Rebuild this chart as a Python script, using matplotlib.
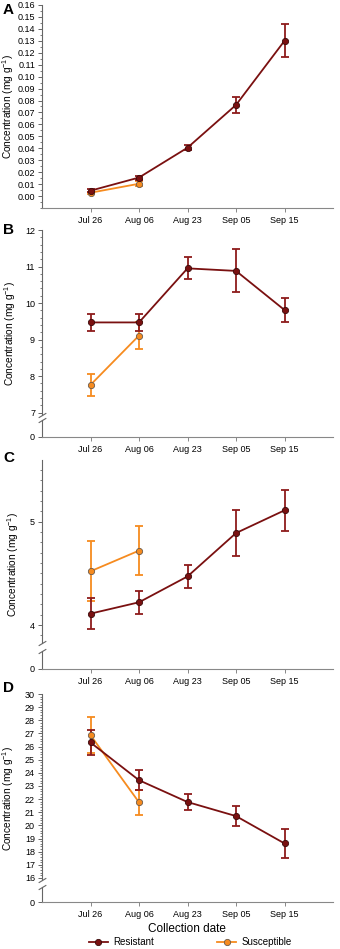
import matplotlib
matplotlib.use("Agg")
import matplotlib.pyplot as plt
from matplotlib.ticker import MultipleLocator, FormatStrFormatter
from matplotlib.lines import Line2D

plt.rcParams["font.family"] = ["Liberation Sans", "DejaVu Sans"]
plt.rcParams["mathtext.default"] = "regular"

dates = ["Jul 26", "Aug 06", "Aug 23", "Sep 05", "Sep 15"]

# panel A
a_res = [0.0045, 0.0155, 0.0405, 0.0763, 0.1300]
a_res_err = [0.0010, 0.0017, 0.0020, 0.0066, 0.0137]
a_sus = [0.0028, 0.0103]
a_sus_err = [0.0010, 0.0020]

# panel B
b_res = [9.47, 9.47, 10.95, 10.88, 9.81]
b_res_err = [0.24, 0.23, 0.30, 0.59, 0.33]
b_sus = [7.76, 9.11]
b_sus_err = [0.30, 0.36]

# panel C
c_res = [4.11, 4.22, 4.47, 4.89, 5.11]
c_res_err = [0.15, 0.11, 0.11, 0.22, 0.20]
c_sus = [4.52, 4.72]
c_sus_err = [0.29, 0.235]

# panel D
d_res = [26.31, 23.44, 21.78, 20.71, 18.63]
d_res_err = [0.97, 0.74, 0.64, 0.78, 1.08]
d_sus = [26.87, 21.76]
d_sus_err = [1.36, 0.93]

RES_LINE = "#7a1010"
RES_ERR = "#8e1b1b"
SUS_LINE = "#f68b1f"
SPINE = "#666666"

W, H = 340.0, 949.0
fig = plt.figure(figsize=(W / 100, H / 100), dpi=100)


def box(left, top, right, bottom):
    return fig.add_axes([left / W, 1 - bottom / H, (right - left) / W, (bottom - top) / H])


def style(ax, show_x):
    for s in ["top", "right"]:
        ax.spines[s].set_visible(False)
    ax.spines["left"].set_color(SPINE)
    ax.spines["bottom"].set_color("#888888")
    ax.spines["left"].set_linewidth(0.8)
    ax.spines["bottom"].set_linewidth(0.8)
    ax.tick_params(axis="y", which="major", length=3, width=0.7, color=SPINE,
                   labelsize=6.5, pad=2)
    ax.tick_params(axis="y", which="minor", length=1.8, width=0.6, color=SPINE)
    ax.tick_params(axis="x", length=3, width=0.7, color="#888888", labelsize=6.5, pad=3)
    ax.set_xlim(0, 6)
    ax.set_xticks(range(1, 6))
    if show_x:
        ax.set_xticklabels(dates)
    else:
        ax.spines["bottom"].set_visible(False)
        ax.tick_params(axis="x", bottom=False, labelbottom=False)


def draw(ax, res, res_err, sus, sus_err):
    x = list(range(1, 6))
    ax.errorbar(x, res, yerr=res_err, fmt="none", ecolor=RES_ERR, elinewidth=1.3,
                capsize=3, capthick=1.3, zorder=3)
    ax.errorbar(x[:len(sus)], sus, yerr=sus_err, fmt="none", ecolor=SUS_LINE,
                elinewidth=1.3, capsize=3, capthick=1.3, zorder=2)
    ax.plot(x[:len(sus)], sus, color=SUS_LINE, lw=1.3, marker="o", ms=4.5,
            mfc=SUS_LINE, mec="#6b5a4a", mew=0.6, zorder=4)
    ax.plot(x, res, color=RES_LINE, lw=1.3, marker="o", ms=4.5,
            mfc=RES_LINE, mec="#3a0a0a", mew=0.6, zorder=5)


def stub(top, bottom):
    ax = box(42, top, 333, bottom)
    style(ax, True)
    ax.set_ylim(0, 1)
    ax.set_yticks([0])
    ax.patch.set_visible(False)
    return ax


def breaks(ax_main, ax_stub):
    kw = dict(marker=[(-1, -0.6), (1, 0.6)], markersize=5.5, linestyle="none",
              color=SPINE, mec=SPINE, mew=0.8, clip_on=False)
    ax_main.plot([0], [0], transform=ax_main.transAxes, **kw)
    ax_stub.plot([0], [1], transform=ax_stub.transAxes, **kw)


def ylabel(ycenter_px, x_px):
    fig.text(x_px / W, 1 - ycenter_px / H, "Concentration (mg g$^{-1}$)",
             rotation=90, ha="center", va="center", fontsize=7.3)


def letter(txt, x_px, y_px):
    fig.text(x_px / W, 1 - y_px / H, txt, fontsize=11, fontweight="bold",
             ha="left", va="center")


# A
axA = box(42, 5, 333, 208)
style(axA, True)
draw(axA, a_res, a_res_err, a_sus, a_sus_err)
axA.set_ylim(-0.01, 0.16)
axA.set_yticks([i / 100 for i in range(0, 17)])
axA.yaxis.set_major_formatter(FormatStrFormatter("%.2f"))
axA.yaxis.set_minor_locator(MultipleLocator(0.005))
ylabel(106, 8)
letter("A", 3, 10)

# B
axB = box(42, 230, 333, 415)
style(axB, False)
draw(axB, b_res, b_res_err, b_sus, b_sus_err)
axB.set_ylim(12 - 185 / 36.53, 12)
axB.set_yticks([7, 8, 9, 10, 11, 12])
axB.yaxis.set_minor_locator(MultipleLocator(0.2))
axB2 = stub(420, 437)
breaks(axB, axB2)
ylabel(333, 10)
letter("B", 3, 230)

# C
axC = box(42, 460, 333, 643)
style(axC, False)
draw(axC, c_res, c_res_err, c_sus, c_sus_err)
axC.set_ylim(4 - 18 / 103.3, 5 + 61.7 / 103.3)
axC.set_yticks([4, 5])
axC.yaxis.set_minor_locator(MultipleLocator(0.1))
axC2 = stub(651, 669)
breaks(axC, axC2)
ylabel(564, 13)
letter("C", 3, 458)

# D
axD = box(42, 694, 333, 880)
style(axD, False)
draw(axD, d_res, d_res_err, d_sus, d_sus_err)
axD.set_ylim(16 - 2 / 13.09, 30)
axD.set_yticks(range(16, 31))
axD.yaxis.set_minor_locator(MultipleLocator(0.2))
axD2 = stub(887, 902)
breaks(axD, axD2)
ylabel(798, 8)
letter("D", 3, 688)

fig.text(187 / W, 1 - 929 / H, "Collection date", ha="center", va="center", fontsize=8.5)

handles = [
    Line2D([], [], color=RES_LINE, lw=1.3, marker="o", ms=4.5, mfc=RES_LINE, mec="#3a0a0a", mew=0.6),
    Line2D([], [], color=SUS_LINE, lw=1.3, marker="o", ms=4.5, mfc=SUS_LINE, mec="#6b5a4a", mew=0.6),
]
fig.legend(handles, ["Resistant", "Susceptible"], loc="center", ncol=2,
           bbox_to_anchor=(190 / W, 1 - 942 / H), frameon=False, fontsize=7,
           handlelength=2.0, handletextpad=0.5, columnspacing=6.5,
           borderpad=0, borderaxespad=0)

fig.savefig("out.png", dpi=100)
